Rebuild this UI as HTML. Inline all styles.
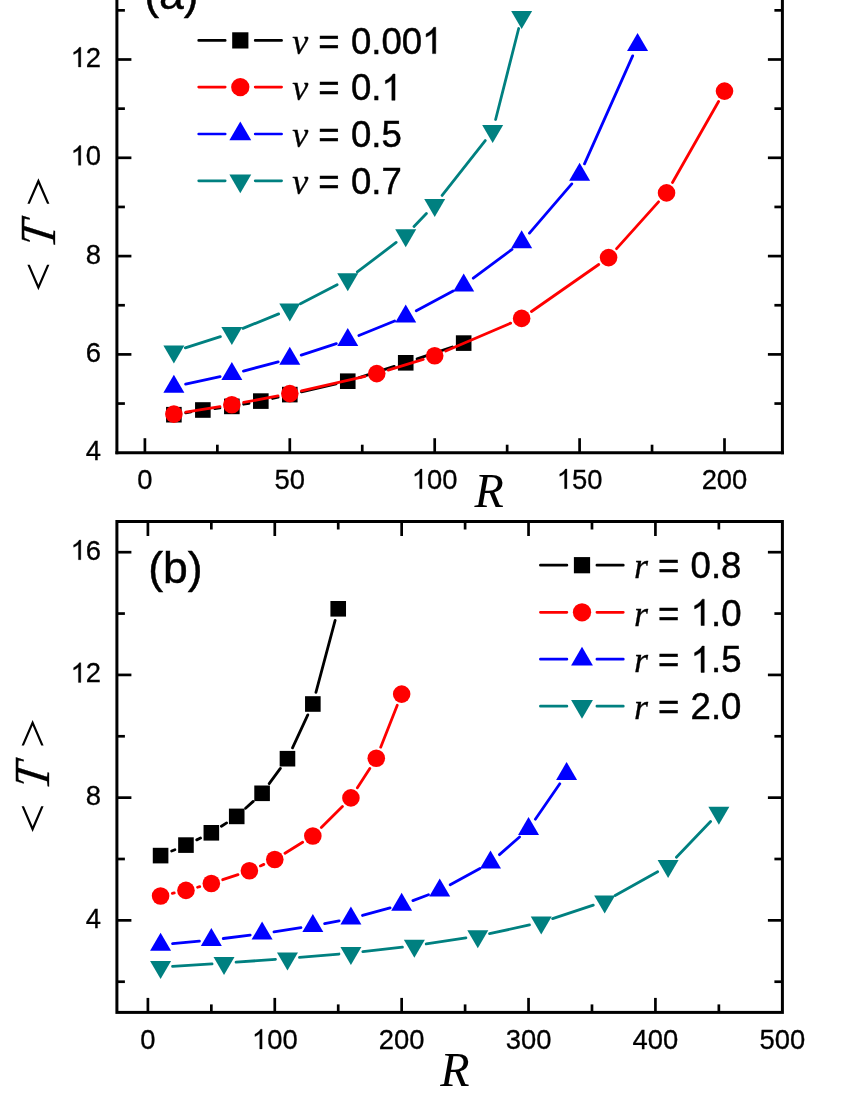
<!DOCTYPE html>
<html><head><meta charset="utf-8"><title>chart</title>
<style>html,body{margin:0;padding:0;background:#fff;overflow:hidden}svg{display:block;position:absolute;left:0;top:0;will-change:transform}text{font-family:"Liberation Sans",sans-serif;fill:#000}.ser{font-family:"Liberation Serif",serif}</style></head>
<body>
<svg width="850" height="1100" viewBox="0 0 850 1100">
<rect width="850" height="1100" fill="#ffffff"/>
<path d="M185.73 412.78L191.01 411.92M214.77 408.52L219.93 407.88M243.64 404.24L249.02 403.26M272.53 398.47L278.09 397.23M301.49 391.90L336.07 383.90M359.20 377.57L394.28 366.43M417.08 358.94L452.32 346.96" stroke="#000000" stroke-width="2.8" stroke-linecap="round" fill="none"/>
<rect x="166.08" y="406.90" width="15.60" height="15.60" fill="#000000"/>
<rect x="195.06" y="402.20" width="15.60" height="15.60" fill="#000000"/>
<rect x="224.04" y="398.60" width="15.60" height="15.60" fill="#000000"/>
<rect x="253.02" y="393.30" width="15.60" height="15.60" fill="#000000"/>
<rect x="282.00" y="386.80" width="15.60" height="15.60" fill="#000000"/>
<rect x="339.96" y="373.40" width="15.60" height="15.60" fill="#000000"/>
<rect x="397.92" y="355.00" width="15.60" height="15.60" fill="#000000"/>
<rect x="455.88" y="335.30" width="15.60" height="15.60" fill="#000000"/>
<path d="M185.73 412.18L219.99 406.62M243.63 402.44L278.01 395.86M301.49 390.91L365.05 376.29M388.21 370.08L423.23 359.32M445.72 351.06L510.62 323.14M531.47 311.52L598.75 264.48M616.59 248.66L658.53 201.84M672.48 182.47L718.56 101.53" stroke="#ff0000" stroke-width="2.8" stroke-linecap="round" fill="none"/>
<circle cx="173.88" cy="414.10" r="8.80" fill="#ff0000"/>
<circle cx="231.84" cy="404.70" r="8.80" fill="#ff0000"/>
<circle cx="289.80" cy="393.60" r="8.80" fill="#ff0000"/>
<circle cx="376.74" cy="373.60" r="8.80" fill="#ff0000"/>
<circle cx="434.70" cy="355.80" r="8.80" fill="#ff0000"/>
<circle cx="521.64" cy="318.40" r="8.80" fill="#ff0000"/>
<circle cx="608.58" cy="257.60" r="8.80" fill="#ff0000"/>
<circle cx="666.54" cy="192.90" r="8.80" fill="#ff0000"/>
<circle cx="724.50" cy="91.10" r="8.80" fill="#ff0000"/>
<path d="M185.61 384.15L220.11 376.65M243.44 371.04L278.20 361.86M301.21 355.10L336.35 343.70M358.88 335.49L394.60 321.01M416.29 310.83L453.11 291.07M473.30 278.23L512.02 249.37M529.46 233.10L571.78 183.90M584.49 163.84L632.67 55.86" stroke="#0000ff" stroke-width="2.8" stroke-linecap="round" fill="none"/>
<polygon points="163.38,392.70 184.38,392.70 173.88,374.70" fill="#0000ff"/>
<polygon points="221.34,380.10 242.34,380.10 231.84,362.10" fill="#0000ff"/>
<polygon points="279.30,364.80 300.30,364.80 289.80,346.80" fill="#0000ff"/>
<polygon points="337.26,346.00 358.26,346.00 347.76,328.00" fill="#0000ff"/>
<polygon points="395.22,322.50 416.22,322.50 405.72,304.50" fill="#0000ff"/>
<polygon points="453.18,291.40 474.18,291.40 463.68,273.40" fill="#0000ff"/>
<polygon points="511.14,248.20 532.14,248.20 521.64,230.20" fill="#0000ff"/>
<polygon points="569.10,180.80 590.10,180.80 579.60,162.80" fill="#0000ff"/>
<polygon points="627.06,50.90 648.06,50.90 637.56,32.90" fill="#0000ff"/>
<path d="M185.30 347.92L220.42 336.58M242.96 328.39L278.68 313.91M300.44 303.85L337.12 284.75M357.32 271.94L396.16 242.46M414.01 226.53L426.41 213.57M442.11 195.46L485.25 140.54M495.61 119.47L518.69 28.53" stroke="#008080" stroke-width="2.8" stroke-linecap="round" fill="none"/>
<polygon points="163.38,345.60 184.38,345.60 173.88,363.60" fill="#008080"/>
<polygon points="221.34,326.90 242.34,326.90 231.84,344.90" fill="#008080"/>
<polygon points="279.30,303.40 300.30,303.40 289.80,321.40" fill="#008080"/>
<polygon points="337.26,273.20 358.26,273.20 347.76,291.20" fill="#008080"/>
<polygon points="395.22,229.20 416.22,229.20 405.72,247.20" fill="#008080"/>
<polygon points="424.20,198.90 445.20,198.90 434.70,216.90" fill="#008080"/>
<polygon points="482.16,125.10 503.16,125.10 492.66,143.10" fill="#008080"/>
<polygon points="511.14,10.90 532.14,10.90 521.64,28.90" fill="#008080"/>
<path d="M171.68 851.01L174.88 849.69M196.76 839.87L200.54 838.03M221.42 826.29L226.64 822.91M245.59 808.32L253.22 801.38M269.19 783.62L280.37 768.38M292.52 747.81L307.79 714.89M315.93 692.40L335.13 620.40" stroke="#000000" stroke-width="2.8" stroke-linecap="round" fill="none"/>
<rect x="152.79" y="847.80" width="15.60" height="15.60" fill="#000000"/>
<rect x="178.16" y="837.30" width="15.60" height="15.60" fill="#000000"/>
<rect x="203.54" y="825.00" width="15.60" height="15.60" fill="#000000"/>
<rect x="228.92" y="808.60" width="15.60" height="15.60" fill="#000000"/>
<rect x="254.29" y="785.50" width="15.60" height="15.60" fill="#000000"/>
<rect x="279.67" y="750.90" width="15.60" height="15.60" fill="#000000"/>
<rect x="305.04" y="696.20" width="15.60" height="15.60" fill="#000000"/>
<rect x="330.42" y="601.00" width="15.60" height="15.60" fill="#000000"/>
<path d="M172.31 893.41L174.25 892.99M197.54 887.25L199.76 886.65M222.72 879.70L238.02 874.60M260.37 865.92L263.82 864.38M284.99 853.20L302.63 842.30M321.33 827.51L342.43 806.39M357.38 787.80L369.81 768.40M380.70 747.14L397.25 705.26" stroke="#ff0000" stroke-width="2.8" stroke-linecap="round" fill="none"/>
<circle cx="160.59" cy="896.00" r="8.80" fill="#ff0000"/>
<circle cx="185.96" cy="890.40" r="8.80" fill="#ff0000"/>
<circle cx="211.34" cy="883.50" r="8.80" fill="#ff0000"/>
<circle cx="249.40" cy="870.80" r="8.80" fill="#ff0000"/>
<circle cx="274.78" cy="859.50" r="8.80" fill="#ff0000"/>
<circle cx="312.84" cy="836.00" r="8.80" fill="#ff0000"/>
<circle cx="350.91" cy="797.90" r="8.80" fill="#ff0000"/>
<circle cx="376.28" cy="758.30" r="8.80" fill="#ff0000"/>
<circle cx="401.66" cy="694.10" r="8.80" fill="#ff0000"/>
<path d="M172.54 943.59L199.39 941.11M223.25 938.50L250.19 935.10M273.96 931.80L300.98 927.70M324.63 923.64L339.12 920.86M362.49 915.45L390.08 907.95M412.90 900.61L428.48 894.79M450.23 884.80L479.97 868.40M499.48 854.67L519.53 837.03M535.35 819.22L559.79 783.78" stroke="#0000ff" stroke-width="2.8" stroke-linecap="round" fill="none"/>
<polygon points="150.09,950.70 171.09,950.70 160.59,932.70" fill="#0000ff"/>
<polygon points="200.84,946.00 221.84,946.00 211.34,928.00" fill="#0000ff"/>
<polygon points="251.59,939.60 272.59,939.60 262.09,921.60" fill="#0000ff"/>
<polygon points="302.34,931.90 323.34,931.90 312.84,913.90" fill="#0000ff"/>
<polygon points="340.41,924.60 361.41,924.60 350.91,906.60" fill="#0000ff"/>
<polygon points="391.16,910.80 412.16,910.80 401.66,892.80" fill="#0000ff"/>
<polygon points="429.22,896.60 450.22,896.60 439.72,878.60" fill="#0000ff"/>
<polygon points="479.98,868.60 500.98,868.60 490.48,850.60" fill="#0000ff"/>
<polygon points="518.04,835.10 539.04,835.10 528.54,817.10" fill="#0000ff"/>
<polygon points="556.10,779.90 577.10,779.90 566.60,761.90" fill="#0000ff"/>
<path d="M172.56 966.34L212.05 963.86M236.00 962.21L275.50 959.29M299.42 957.38L338.95 954.02M362.83 951.63L402.43 947.07M426.22 943.92L465.92 937.98M489.51 933.65L529.50 924.95M552.62 918.63L593.28 905.17M615.14 895.54L657.64 871.76M676.40 857.23L710.57 821.47" stroke="#008080" stroke-width="2.8" stroke-linecap="round" fill="none"/>
<polygon points="150.09,961.10 171.09,961.10 160.59,979.10" fill="#008080"/>
<polygon points="213.53,957.10 234.53,957.10 224.03,975.10" fill="#008080"/>
<polygon points="276.97,952.40 297.97,952.40 287.47,970.40" fill="#008080"/>
<polygon points="340.41,947.00 361.41,947.00 350.91,965.00" fill="#008080"/>
<polygon points="403.85,939.70 424.85,939.70 414.35,957.70" fill="#008080"/>
<polygon points="467.29,930.20 488.29,930.20 477.79,948.20" fill="#008080"/>
<polygon points="530.73,916.40 551.73,916.40 541.23,934.40" fill="#008080"/>
<polygon points="594.17,895.40 615.17,895.40 604.67,913.40" fill="#008080"/>
<polygon points="657.61,859.90 678.61,859.90 668.11,877.90" fill="#008080"/>
<polygon points="708.36,806.80 729.36,806.80 718.86,824.80" fill="#008080"/>
<line x1="116.90" y1="-5.00" x2="116.90" y2="454.20" stroke="#000" stroke-width="3.0"/>
<line x1="782.40" y1="-5.00" x2="782.40" y2="454.20" stroke="#000" stroke-width="3.0"/>
<line x1="115.40" y1="452.70" x2="783.90" y2="452.70" stroke="#000" stroke-width="3.0"/>
<rect x="116.9" y="521.5" width="665.5" height="490.9" fill="none" stroke="#000" stroke-width="3.0"/>
<line x1="144.90" y1="452.70" x2="144.90" y2="438.20" stroke="#000" stroke-width="2.7"/>
<line x1="217.35" y1="452.70" x2="217.35" y2="444.70" stroke="#000" stroke-width="2.7"/>
<line x1="289.80" y1="452.70" x2="289.80" y2="438.20" stroke="#000" stroke-width="2.7"/>
<line x1="362.25" y1="452.70" x2="362.25" y2="444.70" stroke="#000" stroke-width="2.7"/>
<line x1="434.70" y1="452.70" x2="434.70" y2="438.20" stroke="#000" stroke-width="2.7"/>
<line x1="507.15" y1="452.70" x2="507.15" y2="444.70" stroke="#000" stroke-width="2.7"/>
<line x1="579.60" y1="452.70" x2="579.60" y2="438.20" stroke="#000" stroke-width="2.7"/>
<line x1="652.05" y1="452.70" x2="652.05" y2="444.70" stroke="#000" stroke-width="2.7"/>
<line x1="724.50" y1="452.70" x2="724.50" y2="438.20" stroke="#000" stroke-width="2.7"/>
<line x1="116.90" y1="403.55" x2="124.90" y2="403.55" stroke="#000" stroke-width="2.7"/>
<line x1="782.40" y1="403.55" x2="774.40" y2="403.55" stroke="#000" stroke-width="2.7"/>
<line x1="116.90" y1="354.40" x2="131.40" y2="354.40" stroke="#000" stroke-width="2.7"/>
<line x1="782.40" y1="354.40" x2="767.90" y2="354.40" stroke="#000" stroke-width="2.7"/>
<line x1="116.90" y1="305.25" x2="124.90" y2="305.25" stroke="#000" stroke-width="2.7"/>
<line x1="782.40" y1="305.25" x2="774.40" y2="305.25" stroke="#000" stroke-width="2.7"/>
<line x1="116.90" y1="256.10" x2="131.40" y2="256.10" stroke="#000" stroke-width="2.7"/>
<line x1="782.40" y1="256.10" x2="767.90" y2="256.10" stroke="#000" stroke-width="2.7"/>
<line x1="116.90" y1="206.95" x2="124.90" y2="206.95" stroke="#000" stroke-width="2.7"/>
<line x1="782.40" y1="206.95" x2="774.40" y2="206.95" stroke="#000" stroke-width="2.7"/>
<line x1="116.90" y1="157.80" x2="131.40" y2="157.80" stroke="#000" stroke-width="2.7"/>
<line x1="782.40" y1="157.80" x2="767.90" y2="157.80" stroke="#000" stroke-width="2.7"/>
<line x1="116.90" y1="108.65" x2="124.90" y2="108.65" stroke="#000" stroke-width="2.7"/>
<line x1="782.40" y1="108.65" x2="774.40" y2="108.65" stroke="#000" stroke-width="2.7"/>
<line x1="116.90" y1="59.50" x2="131.40" y2="59.50" stroke="#000" stroke-width="2.7"/>
<line x1="782.40" y1="59.50" x2="767.90" y2="59.50" stroke="#000" stroke-width="2.7"/>
<line x1="116.90" y1="10.35" x2="124.90" y2="10.35" stroke="#000" stroke-width="2.7"/>
<line x1="782.40" y1="10.35" x2="774.40" y2="10.35" stroke="#000" stroke-width="2.7"/>
<line x1="147.90" y1="1012.40" x2="147.90" y2="997.90" stroke="#000" stroke-width="2.7"/>
<line x1="147.90" y1="521.50" x2="147.90" y2="536.00" stroke="#000" stroke-width="2.7"/>
<line x1="211.34" y1="1012.40" x2="211.34" y2="1004.40" stroke="#000" stroke-width="2.7"/>
<line x1="211.34" y1="521.50" x2="211.34" y2="529.50" stroke="#000" stroke-width="2.7"/>
<line x1="274.78" y1="1012.40" x2="274.78" y2="997.90" stroke="#000" stroke-width="2.7"/>
<line x1="274.78" y1="521.50" x2="274.78" y2="536.00" stroke="#000" stroke-width="2.7"/>
<line x1="338.22" y1="1012.40" x2="338.22" y2="1004.40" stroke="#000" stroke-width="2.7"/>
<line x1="338.22" y1="521.50" x2="338.22" y2="529.50" stroke="#000" stroke-width="2.7"/>
<line x1="401.66" y1="1012.40" x2="401.66" y2="997.90" stroke="#000" stroke-width="2.7"/>
<line x1="401.66" y1="521.50" x2="401.66" y2="536.00" stroke="#000" stroke-width="2.7"/>
<line x1="465.10" y1="1012.40" x2="465.10" y2="1004.40" stroke="#000" stroke-width="2.7"/>
<line x1="465.10" y1="521.50" x2="465.10" y2="529.50" stroke="#000" stroke-width="2.7"/>
<line x1="528.54" y1="1012.40" x2="528.54" y2="997.90" stroke="#000" stroke-width="2.7"/>
<line x1="528.54" y1="521.50" x2="528.54" y2="536.00" stroke="#000" stroke-width="2.7"/>
<line x1="591.98" y1="1012.40" x2="591.98" y2="1004.40" stroke="#000" stroke-width="2.7"/>
<line x1="591.98" y1="521.50" x2="591.98" y2="529.50" stroke="#000" stroke-width="2.7"/>
<line x1="655.42" y1="1012.40" x2="655.42" y2="997.90" stroke="#000" stroke-width="2.7"/>
<line x1="655.42" y1="521.50" x2="655.42" y2="536.00" stroke="#000" stroke-width="2.7"/>
<line x1="718.86" y1="1012.40" x2="718.86" y2="1004.40" stroke="#000" stroke-width="2.7"/>
<line x1="718.86" y1="521.50" x2="718.86" y2="529.50" stroke="#000" stroke-width="2.7"/>
<line x1="116.90" y1="981.72" x2="124.90" y2="981.72" stroke="#000" stroke-width="2.7"/>
<line x1="782.40" y1="981.72" x2="774.40" y2="981.72" stroke="#000" stroke-width="2.7"/>
<line x1="116.90" y1="920.36" x2="131.40" y2="920.36" stroke="#000" stroke-width="2.7"/>
<line x1="782.40" y1="920.36" x2="767.90" y2="920.36" stroke="#000" stroke-width="2.7"/>
<line x1="116.90" y1="859.00" x2="124.90" y2="859.00" stroke="#000" stroke-width="2.7"/>
<line x1="782.40" y1="859.00" x2="774.40" y2="859.00" stroke="#000" stroke-width="2.7"/>
<line x1="116.90" y1="797.64" x2="131.40" y2="797.64" stroke="#000" stroke-width="2.7"/>
<line x1="782.40" y1="797.64" x2="767.90" y2="797.64" stroke="#000" stroke-width="2.7"/>
<line x1="116.90" y1="736.28" x2="124.90" y2="736.28" stroke="#000" stroke-width="2.7"/>
<line x1="782.40" y1="736.28" x2="774.40" y2="736.28" stroke="#000" stroke-width="2.7"/>
<line x1="116.90" y1="674.92" x2="131.40" y2="674.92" stroke="#000" stroke-width="2.7"/>
<line x1="782.40" y1="674.92" x2="767.90" y2="674.92" stroke="#000" stroke-width="2.7"/>
<line x1="116.90" y1="613.56" x2="124.90" y2="613.56" stroke="#000" stroke-width="2.7"/>
<line x1="782.40" y1="613.56" x2="774.40" y2="613.56" stroke="#000" stroke-width="2.7"/>
<line x1="116.90" y1="552.20" x2="131.40" y2="552.20" stroke="#000" stroke-width="2.7"/>
<line x1="782.40" y1="552.20" x2="767.90" y2="552.20" stroke="#000" stroke-width="2.7"/>
<text x="137.28" y="488.70" font-size="27.4" stroke="#000" stroke-width="0.3" xml:space="preserve">0</text>
<text x="274.56" y="488.70" font-size="27.4" stroke="#000" stroke-width="0.3" xml:space="preserve">50</text>
<path transform="translate(411.84,488.70) scale(0.01338,-0.01338)" d="M763 0H583V1147Q518 1085 412.5 1023T223 930V1104Q374 1175 487 1276T647 1472H763Z" fill="#000" stroke="#000" stroke-width="22.4"/><text x="427.08" y="488.70" font-size="27.4" stroke="#000" stroke-width="0.3" xml:space="preserve">00</text>
<path transform="translate(556.74,488.70) scale(0.01338,-0.01338)" d="M763 0H583V1147Q518 1085 412.5 1023T223 930V1104Q374 1175 487 1276T647 1472H763Z" fill="#000" stroke="#000" stroke-width="22.4"/><text x="571.98" y="488.70" font-size="27.4" stroke="#000" stroke-width="0.3" xml:space="preserve">50</text>
<text x="701.64" y="488.70" font-size="27.4" stroke="#000" stroke-width="0.3" xml:space="preserve">200</text>
<text x="85.86" y="460.20" font-size="27.4" stroke="#000" stroke-width="0.3" xml:space="preserve">4</text>
<text x="85.86" y="361.90" font-size="27.4" stroke="#000" stroke-width="0.3" xml:space="preserve">6</text>
<text x="85.86" y="263.60" font-size="27.4" stroke="#000" stroke-width="0.3" xml:space="preserve">8</text>
<path transform="translate(70.62,165.30) scale(0.01338,-0.01338)" d="M763 0H583V1147Q518 1085 412.5 1023T223 930V1104Q374 1175 487 1276T647 1472H763Z" fill="#000" stroke="#000" stroke-width="22.4"/><text x="85.86" y="165.30" font-size="27.4" stroke="#000" stroke-width="0.3" xml:space="preserve">0</text>
<path transform="translate(70.62,67.00) scale(0.01338,-0.01338)" d="M763 0H583V1147Q518 1085 412.5 1023T223 930V1104Q374 1175 487 1276T647 1472H763Z" fill="#000" stroke="#000" stroke-width="22.4"/><text x="85.86" y="67.00" font-size="27.4" stroke="#000" stroke-width="0.3" xml:space="preserve">2</text>
<text x="140.28" y="1048.90" font-size="27.4" stroke="#000" stroke-width="0.3" xml:space="preserve">0</text>
<path transform="translate(251.92,1048.90) scale(0.01338,-0.01338)" d="M763 0H583V1147Q518 1085 412.5 1023T223 930V1104Q374 1175 487 1276T647 1472H763Z" fill="#000" stroke="#000" stroke-width="22.4"/><text x="267.16" y="1048.90" font-size="27.4" stroke="#000" stroke-width="0.3" xml:space="preserve">00</text>
<text x="378.80" y="1048.90" font-size="27.4" stroke="#000" stroke-width="0.3" xml:space="preserve">200</text>
<text x="505.68" y="1048.90" font-size="27.4" stroke="#000" stroke-width="0.3" xml:space="preserve">300</text>
<text x="632.56" y="1048.90" font-size="27.4" stroke="#000" stroke-width="0.3" xml:space="preserve">400</text>
<text x="759.44" y="1048.90" font-size="27.4" stroke="#000" stroke-width="0.3" xml:space="preserve">500</text>
<text x="85.86" y="927.86" font-size="27.4" stroke="#000" stroke-width="0.3" xml:space="preserve">4</text>
<text x="85.86" y="805.14" font-size="27.4" stroke="#000" stroke-width="0.3" xml:space="preserve">8</text>
<path transform="translate(70.62,682.42) scale(0.01338,-0.01338)" d="M763 0H583V1147Q518 1085 412.5 1023T223 930V1104Q374 1175 487 1276T647 1472H763Z" fill="#000" stroke="#000" stroke-width="22.4"/><text x="85.86" y="682.42" font-size="27.4" stroke="#000" stroke-width="0.3" xml:space="preserve">2</text>
<path transform="translate(70.62,559.70) scale(0.01338,-0.01338)" d="M763 0H583V1147Q518 1085 412.5 1023T223 930V1104Q374 1175 487 1276T647 1472H763Z" fill="#000" stroke="#000" stroke-width="22.4"/><text x="85.86" y="559.70" font-size="27.4" stroke="#000" stroke-width="0.3" xml:space="preserve">6</text>
<text x="474.4" y="506.6" font-size="48" font-style="italic" class="ser">R</text>
<text x="440.3" y="1085.8" font-size="48" font-style="italic" class="ser">R</text>
<polygon points="38.40,178.30 27.40,203.80 29.75,203.80 38.40,183.90 47.05,203.80 49.40,203.80" fill="#000"/><polygon points="38.40,290.30 27.40,264.70 29.75,264.70 38.40,284.70 47.05,264.70 49.40,264.70" fill="#000"/><text transform="translate(54.9,236.20) rotate(-90) skewX(-9) scale(0.9,1)" text-anchor="middle" font-size="50.5" stroke="#000" stroke-width="0.3" font-style="italic" class="ser">T</text>
<polygon points="32.60,719.90 21.60,745.40 23.95,745.40 32.60,725.50 41.25,745.40 43.60,745.40" fill="#000"/><polygon points="32.60,831.90 21.60,806.30 23.95,806.30 32.60,826.30 41.25,806.30 43.60,806.30" fill="#000"/><text transform="translate(49.1,777.80) rotate(-90) skewX(-9) scale(0.9,1)" text-anchor="middle" font-size="50.5" stroke="#000" stroke-width="0.3" font-style="italic" class="ser">T</text>
<text x="144.20" y="8.90" font-size="44.5" text-anchor="start" stroke="#000" stroke-width="0.45">(a)</text>
<text x="148.30" y="583.20" font-size="44.5" text-anchor="start" stroke="#000" stroke-width="0.45">(b)</text>
<path d="M198.7 40.4H225.2M255.2 40.4H281.6" stroke="#000000" stroke-width="2.7" stroke-linecap="round" fill="none"/>
<rect x="232.19" y="32.29" width="16.22" height="16.22" fill="#000000"/>
<text x="292.2" y="53.6" font-size="36" font-style="italic" stroke="#000" stroke-width="0.3" class="ser">v</text>
<text x="308.18" y="53.60" font-size="36.6" stroke="#000" stroke-width="0.45" xml:space="preserve"> = </text>
<text x="350.89" y="53.60" font-size="36.6" stroke="#000" stroke-width="0.45" xml:space="preserve">0.00</text><path transform="translate(422.12,53.60) scale(0.01787,-0.01787)" d="M763 0H583V1147Q518 1085 412.5 1023T223 930V1104Q374 1175 487 1276T647 1472H763Z" fill="#000" stroke="#000" stroke-width="25.2"/>
<path d="M198.7 87.1H225.2M255.2 87.1H281.6" stroke="#ff0000" stroke-width="2.7" stroke-linecap="round" fill="none"/>
<circle cx="240.30" cy="87.10" r="9.15" fill="#ff0000"/>
<text x="292.2" y="100.3" font-size="36" font-style="italic" stroke="#000" stroke-width="0.3" class="ser">v</text>
<text x="308.18" y="100.30" font-size="36.6" stroke="#000" stroke-width="0.45" xml:space="preserve"> = </text>
<text x="350.89" y="100.30" font-size="36.6" stroke="#000" stroke-width="0.45" xml:space="preserve">0.</text><path transform="translate(381.41,100.30) scale(0.01787,-0.01787)" d="M763 0H583V1147Q518 1085 412.5 1023T223 930V1104Q374 1175 487 1276T647 1472H763Z" fill="#000" stroke="#000" stroke-width="25.2"/>
<path d="M198.7 134.0H225.2M255.2 134.0H281.6" stroke="#0000ff" stroke-width="2.7" stroke-linecap="round" fill="none"/>
<polygon points="229.38,140.24 251.22,140.24 240.30,121.52" fill="#0000ff"/>
<text x="292.2" y="147.2" font-size="36" font-style="italic" stroke="#000" stroke-width="0.3" class="ser">v</text>
<text x="308.18" y="147.20" font-size="36.6" stroke="#000" stroke-width="0.45" xml:space="preserve"> = </text>
<text x="350.89" y="147.20" font-size="36.6" stroke="#000" stroke-width="0.45" xml:space="preserve">0.5</text>
<path d="M198.7 180.8H225.2M255.2 180.8H281.6" stroke="#008080" stroke-width="2.7" stroke-linecap="round" fill="none"/>
<polygon points="229.38,174.56 251.22,174.56 240.30,193.28" fill="#008080"/>
<text x="292.2" y="194.0" font-size="36" font-style="italic" stroke="#000" stroke-width="0.3" class="ser">v</text>
<text x="308.18" y="194.00" font-size="36.6" stroke="#000" stroke-width="0.45" xml:space="preserve"> = </text>
<text x="350.89" y="194.00" font-size="36.6" stroke="#000" stroke-width="0.45" xml:space="preserve">0.7</text>
<path d="M540.4 565.2H566.9M596.9 565.2H623.3" stroke="#000000" stroke-width="2.7" stroke-linecap="round" fill="none"/>
<rect x="573.89" y="557.09" width="16.22" height="16.22" fill="#000000"/>
<text x="633.9" y="578.4" font-size="36" font-style="italic" stroke="#000" stroke-width="0.3" class="ser">r</text>
<text x="647.91" y="578.40" font-size="36.6" stroke="#000" stroke-width="0.45" xml:space="preserve"> = </text>
<text x="690.62" y="578.40" font-size="36.6" stroke="#000" stroke-width="0.45" xml:space="preserve">0.8</text>
<path d="M540.4 612.3H566.9M596.9 612.3H623.3" stroke="#ff0000" stroke-width="2.7" stroke-linecap="round" fill="none"/>
<circle cx="582.00" cy="612.30" r="9.15" fill="#ff0000"/>
<text x="633.9" y="625.5" font-size="36" font-style="italic" stroke="#000" stroke-width="0.3" class="ser">r</text>
<text x="647.91" y="625.50" font-size="36.6" stroke="#000" stroke-width="0.45" xml:space="preserve"> = </text>
<path transform="translate(690.62,625.50) scale(0.01787,-0.01787)" d="M763 0H583V1147Q518 1085 412.5 1023T223 930V1104Q374 1175 487 1276T647 1472H763Z" fill="#000" stroke="#000" stroke-width="25.2"/><text x="710.98" y="625.50" font-size="36.6" stroke="#000" stroke-width="0.45" xml:space="preserve">.0</text>
<path d="M540.4 659.2H566.9M596.9 659.2H623.3" stroke="#0000ff" stroke-width="2.7" stroke-linecap="round" fill="none"/>
<polygon points="571.08,665.44 592.92,665.44 582.00,646.72" fill="#0000ff"/>
<text x="633.9" y="672.4" font-size="36" font-style="italic" stroke="#000" stroke-width="0.3" class="ser">r</text>
<text x="647.91" y="672.40" font-size="36.6" stroke="#000" stroke-width="0.45" xml:space="preserve"> = </text>
<path transform="translate(690.62,672.40) scale(0.01787,-0.01787)" d="M763 0H583V1147Q518 1085 412.5 1023T223 930V1104Q374 1175 487 1276T647 1472H763Z" fill="#000" stroke="#000" stroke-width="25.2"/><text x="710.98" y="672.40" font-size="36.6" stroke="#000" stroke-width="0.45" xml:space="preserve">.5</text>
<path d="M540.4 706.2H566.9M596.9 706.2H623.3" stroke="#008080" stroke-width="2.7" stroke-linecap="round" fill="none"/>
<polygon points="571.08,699.96 592.92,699.96 582.00,718.68" fill="#008080"/>
<text x="633.9" y="719.4" font-size="36" font-style="italic" stroke="#000" stroke-width="0.3" class="ser">r</text>
<text x="647.91" y="719.40" font-size="36.6" stroke="#000" stroke-width="0.45" xml:space="preserve"> = </text>
<text x="690.62" y="719.40" font-size="36.6" stroke="#000" stroke-width="0.45" xml:space="preserve">2.0</text>
</svg>
</body></html>
